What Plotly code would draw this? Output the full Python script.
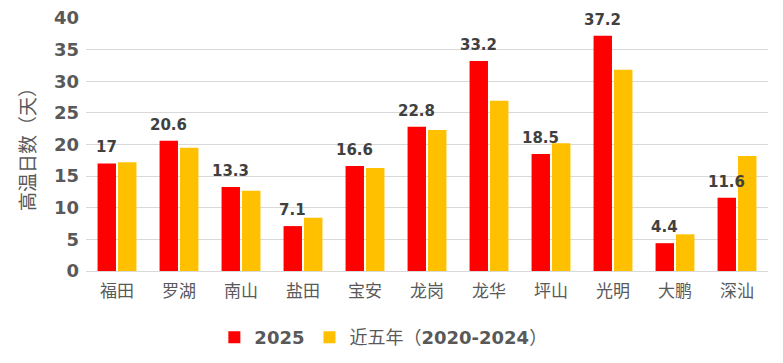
import plotly.graph_objects as go

categories = ["福田", "罗湖", "南山", "盐田", "宝安", "龙岗", "龙华", "坪山", "光明", "大鹏", "深汕"]
values_2025 = [17, 20.6, 13.3, 7.1, 16.6, 22.8, 33.2, 18.5, 37.2, 4.4, 11.6]
values_5yr = [17.2, 19.5, 12.7, 8.4, 16.3, 22.3, 26.9, 20.2, 31.8, 5.8, 18.2]
y_ticks = [0, 5, 10, 15, 20, 25, 30, 35, 40]

font_main = "DejaVu Sans, Noto Sans CJK SC, sans-serif"

fig = go.Figure()
fig.add_trace(go.Bar(
    x=categories, y=values_2025, name="<b>2025</b>",
    marker=dict(color="#FF0000", line=dict(width=0)),
    cliponaxis=False,
))
fig.add_trace(go.Bar(
    x=categories, y=values_5yr, name="近五年（<b>2020-2024</b>）",
    marker=dict(color="#FFC000", line=dict(width=0)),
))

for cat, v in zip(categories, values_2025):
    fig.add_annotation(
        x=cat, y=v, text=f"{v:g}", showarrow=False,
        xanchor="center", yanchor="bottom", xshift=-11, yshift=5,
        font=dict(family=font_main, size=15, color="#404040", weight="bold"),
    )

fig.update_layout(
    width=783, height=363,
    margin=dict(l=86, r=15, t=18, b=92, autoexpand=False),
    paper_bgcolor="white", plot_bgcolor="white",
    barmode="group", bargap=0.34, bargroupgap=0.1,
    showlegend=True,
    legend=dict(orientation="h", x=0.436, xanchor="center", y=-0.19, yanchor="top",
                font=dict(family=font_main, size=18, color="#595959"),
                itemwidth=30, traceorder="normal", tracegroupgap=0),
    font=dict(family=font_main, color="#595959"),
)
fig.update_xaxes(
    showgrid=False, showline=False, ticks="", automargin=False,
    ticklabelstandoff=8,
    tickfont=dict(family="Noto Sans CJK SC, sans-serif", size=17, color="#595959"),
)
fig.update_yaxes(
    range=[0, 40], tickvals=y_ticks, showgrid=True, gridcolor="#D9D9D9", gridwidth=1,
    zeroline=True, zerolinecolor="#D9D9D9", zerolinewidth=1, automargin=False,
    tickfont=dict(family=font_main, size=18, color="#595959", weight="bold"),
    ticklabelstandoff=6,
    title=dict(text="高温日数（天）", font=dict(family="Noto Sans CJK SC, sans-serif", size=19, color="#595959"), standoff=13),
)

fig.write_html("out.html", config={"displayModeBar": False},
               post_script="document.body.style.margin='0';")
